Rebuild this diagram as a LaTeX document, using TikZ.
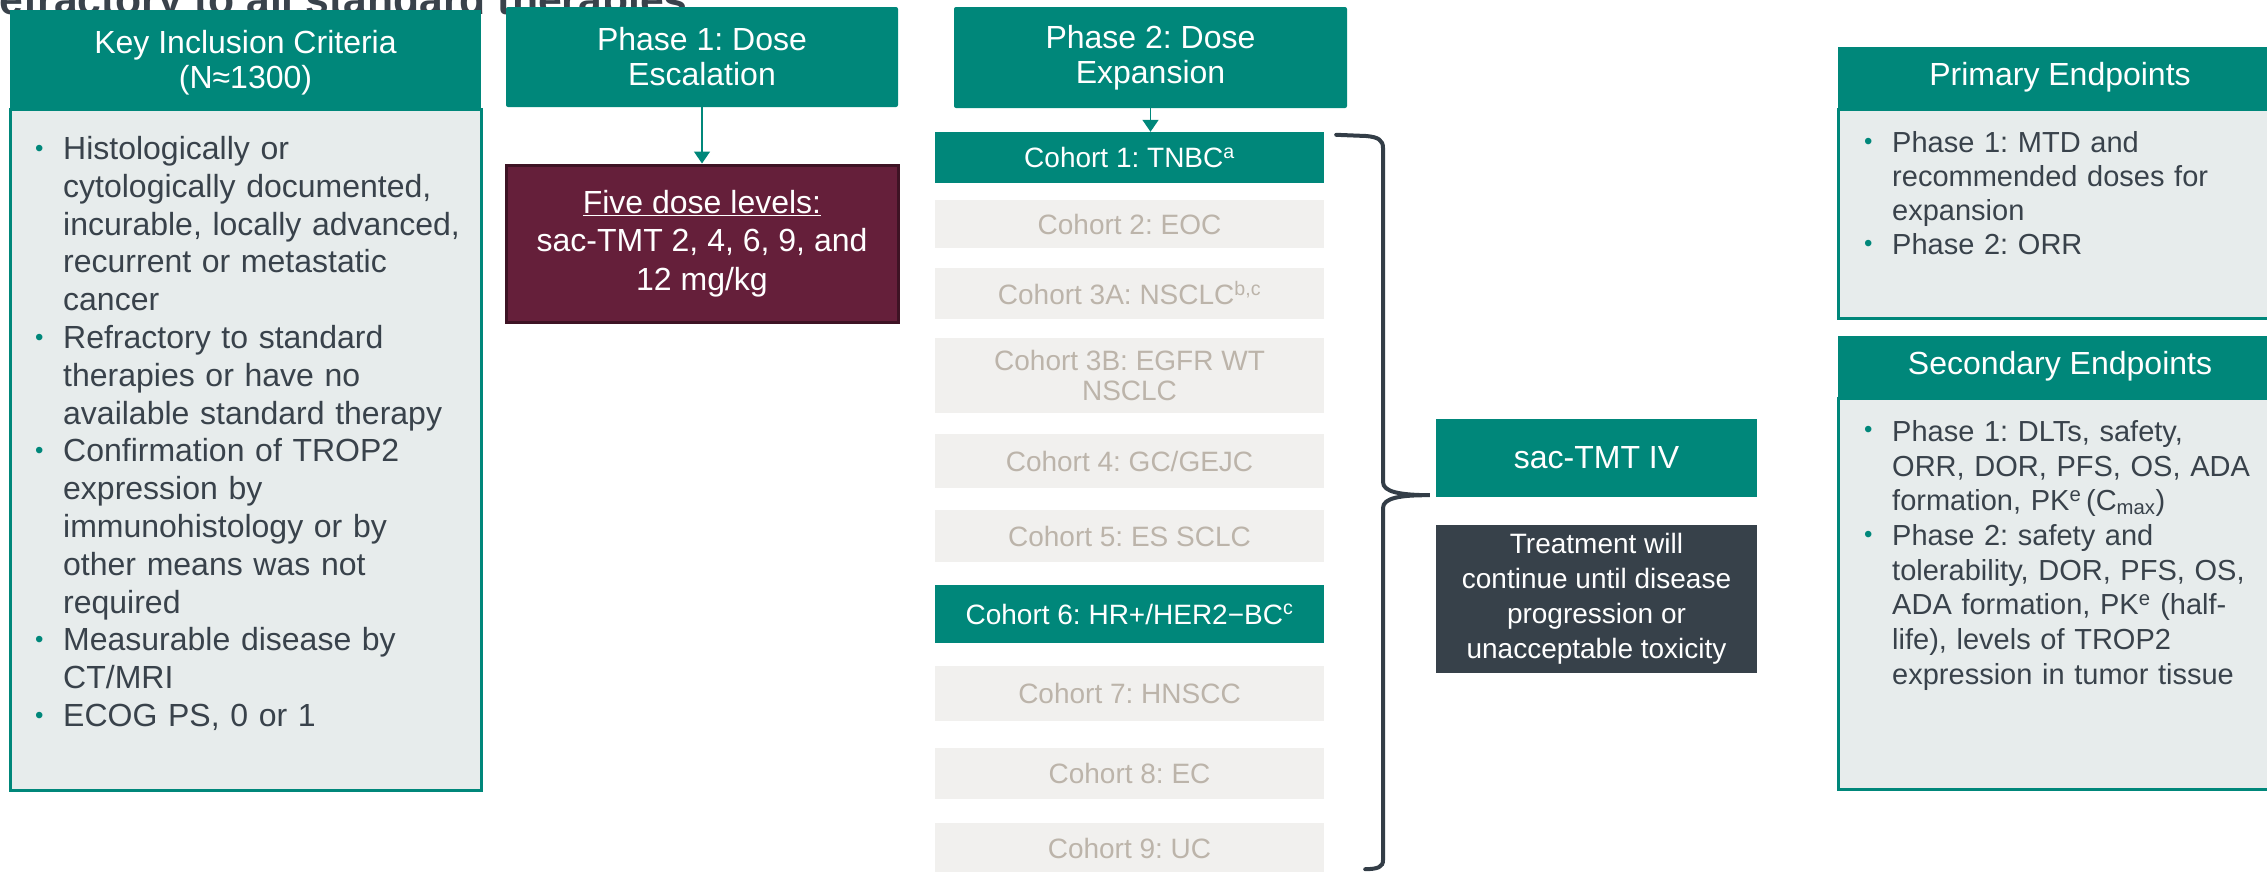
\documentclass[tikz,border=0pt]{standalone}
\usepackage{fontspec}
\setmainfont{Liberation Sans}
\usetikzlibrary{calc,arrows.meta}
\setlength{\parskip}{0pt}
\frenchspacing

\definecolor{trialteal}{HTML}{00877A}
\definecolor{bodygray}{HTML}{E7ECEC}
\definecolor{darktext}{HTML}{39424B}
\definecolor{maroonfill}{HTML}{651F3A}
\definecolor{maroonline}{HTML}{3E1324}
\definecolor{cohortfill}{HTML}{F1F0EE}
\definecolor{cohorttext}{HTML}{BCB4AA}
\definecolor{bracecol}{HTML}{333D47}
\definecolor{treatfill}{HTML}{37414A}

% bullet with hanging indent
\newcommand{\itm}{\par\noindent\hangindent=28pt\hangafter=1%
  \makebox[28pt][l]{\raisebox{3.5pt}{\fontsize{24}{24}\selectfont\textcolor{trialteal}{\textbullet}}}}

\begin{document}
\begin{tikzpicture}[x=1pt,y=-1pt,
	head/.style={fill=trialteal, text=white, inner sep=0pt, align=center, font={\fontsize{32}{35}\selectfont}},
	bodybox/.style={fill=bodygray, draw=trialteal, line width=3pt, inner sep=0pt, anchor=north},
	bodytext/.style={text=darktext, inner sep=0pt, anchor=north west, text width=430pt},
	cohortgray/.style={fill=cohortfill, text=cohorttext, minimum width=389pt, inner sep=0pt, align=center, font={\fontsize{28}{30}\selectfont}},
	cohortteal/.style={cohortgray, fill=trialteal, text=white},
	flow/.style={draw=trialteal, line width=1.5pt, -{Triangle[width=16pt,length=12pt]}}]
	%\draw[help lines] (0,0) grid (2267,871);
	\useasboundingbox (0,0) rectangle (2267,871);
	\clip (0,0) rectangle (2267,871);
	
	%TITLE (cut off at the top)
	\node[anchor=base east, inner sep=0pt, text=darktext, font={\fontsize{42.7}{45}\selectfont\bfseries}] (title) at (688,14) {Refractory to all standard therapies};
	
	%INCLUSION CRITERIA
	\node[head, minimum width=471pt, minimum height=98pt] (inchead) at (245.5,59) {};
	\node[head, fill=none] (inclabel) at ($(inchead.center)+(0,4)$) {Key Inclusion Criteria\\(N≈1300)};
	\node[bodybox, minimum width=471pt, minimum height=681pt] (incbody) at (inchead.south) {};
	\node[bodytext, font={\fontsize{32}{37.8}\selectfont}] (inctext) at (35,121.5) {%
		\itm\strut Histologically or\newline cytologically documented,\newline incurable, locally advanced,\newline recurrent or metastatic\newline cancer
		\itm Refractory to standard\newline therapies or have no\newline available standard therapy
		\itm Confirmation of TROP2\newline expression by\newline immunohistology or by\newline other means was not\newline required
		\itm Measurable disease by\newline CT/MRI
		\itm ECOG PS, 0 or 1\par};
	
	%PHASE 1
	\node[head, minimum width=392pt, minimum height=100pt, rounded corners=2pt] (ph1) at (702,57) {Phase 1: Dose\\Escalation};
	\node[fill=maroonfill, draw=maroonline, line width=3pt, text=white, inner sep=0pt, align=center,
		minimum width=392pt, minimum height=157pt, font={\fontsize{32}{38.5}\selectfont}] (dose) at (702,243.5)
		{\underline{Five dose levels:}\\sac-TMT 2, 4, 6, 9, and\\12 mg/kg};
	\draw[flow] (ph1.south) -- (dose.north);
	
	%PHASE 2 AND COHORTS
	\node[head, minimum width=393pt, minimum height=101pt, rounded corners=2pt] (ph2) at (1150.5,57.5) {Phase 2: Dose\\Expansion};
	\node[cohortteal, minimum height=51pt] (c1) at (1129.5,157.5) {Cohort 1: TNBC\textsuperscript{a}};
	\node[cohortgray, minimum height=48pt] (c2) at (1129.5,224) {Cohort 2: EOC};
	\node[cohortgray, minimum height=51pt] (c3a) at (1129.5,293.5) {Cohort 3A: NSCLC\textsuperscript{b,c}};
	\node[cohortgray, minimum height=75pt] (c3b) at (1129.5,375.5) {Cohort 3B: EGFR WT\\NSCLC};
	\node[cohortgray, minimum height=54pt] (c4) at (1129.5,461) {Cohort 4: GC/GEJC};
	\node[cohortgray, minimum height=52pt] (c5) at (1129.5,536) {Cohort 5: ES SCLC};
	\node[cohortteal, minimum height=58pt] (c6) at (1129.5,614) {Cohort 6: HR+/HER2−BC\textsuperscript{c}};
	\node[cohortgray, minimum height=55pt] (c7) at (1129.5,693.5) {Cohort 7: HNSCC};
	\node[cohortgray, minimum height=51pt] (c8) at (1129.5,773.5) {Cohort 8: EC};
	\node[cohortgray, minimum height=50pt] (c9) at (1129.5,848) {Cohort 9: UC};
	\draw[flow] (ph2.south) -- (ph2.south |- c1.north);
	
	%TREATMENT
	\node[fill=trialteal, text=white, inner sep=0pt, minimum width=321pt, minimum height=78pt, font={\fontsize{32}{35}\selectfont}] (tmt) at (1596.5,458) {sac-TMT IV};
	\node[fill=treatfill, text=white, inner sep=0pt, align=center, minimum width=321pt, minimum height=148pt, font={\fontsize{28}{35}\selectfont}] (treat) at (1596.5,599)
		{Treatment will\\continue until disease\\progression or\\unacceptable toxicity};
	
	%BRACE
	\coordinate (btop) at ($(c1.north east)+(12,3)$);
	\coordinate (bbot) at ($(c9.south east)+(41,-4)$);
	\coordinate (btip) at ($(tmt.south west)+(-6,-2)$);
	\draw[bracecol, line width=4pt, line cap=round] (btop) -- (1366,136) .. controls (1378,137) and (1383,140) .. (1383,148)
		-- (1383,482) .. controls (1383,492) and (1400,495) .. (btip)
		.. controls (1400,495) and (1383,498) .. (1383,508)
		-- (1383,860) .. controls (1383,867) and (1378,869) .. (bbot);
	
	%ENDPOINTS
	\node[head, minimum width=444pt, minimum height=61pt] (prihead) at (2060,77.5) {Primary Endpoints};
	\node[bodybox, minimum width=444pt, minimum height=209pt] (pribody) at (prihead.south) {};
	\node[bodytext, font={\fontsize{29}{34}\selectfont}] (pritext) at (1864,118.5) {%
		\itm\strut Phase 1: MTD and\newline recommended doses for\newline expansion
		\itm Phase 2: ORR\par};
	\node[head, minimum width=444pt, minimum height=61pt] (sechead) at (2060,366.5) {Secondary Endpoints};
	\node[bodybox, minimum width=444pt, minimum height=391pt] (secbody) at (sechead.south) {};
	\node[bodytext, font={\fontsize{29}{34.7}\selectfont}] (sectext) at (1864,406.5) {%
		\itm\strut Phase 1: DLTs, safety,\newline ORR, DOR, PFS, OS, ADA\newline formation, PK\textsuperscript{e}\,(C\textsubscript{max})
		\itm Phase 2: safety and\newline tolerability, DOR, PFS, OS,\newline ADA formation, PK\textsuperscript{e} (half-\newline life), levels of TROP2\newline expression in tumor tissue\par};
\end{tikzpicture}
\end{document}
